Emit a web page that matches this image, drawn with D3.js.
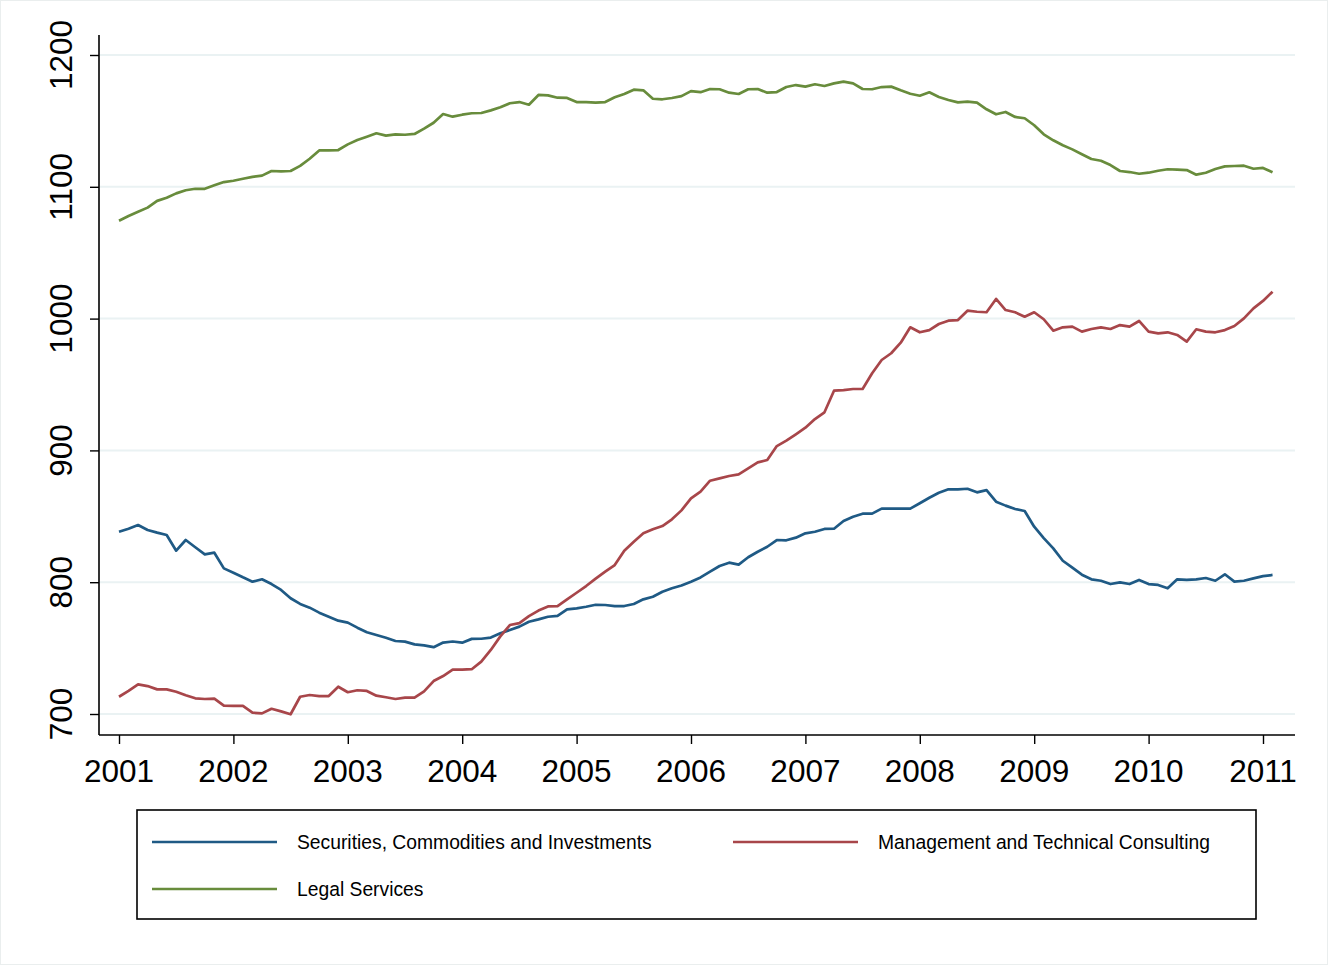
<!DOCTYPE html>
<html>
<head>
<meta charset="utf-8">
<script src="https://cdn.jsdelivr.net/npm/d3@7"></script>
<style>
  html, body { margin: 0; padding: 0; background: #ffffff; }
  svg { display: block; font-family: "Liberation Sans", Arial, Helvetica, sans-serif; }
</style>
</head>
<body>
<svg id="chart" width="1328" height="965"></svg>
<script>
// ---- Data (monthly, Jan 2001 – Feb 2011) ----
const startYear = 2001;
const nMonths = 122;

const securities = [
  838.3, 840.6, 843.4, 839.6, 837.6, 835.8, 823.9, 832.0, 826.5, 821.1, 822.4, 810.5,
  807.2, 803.7, 800.4, 802.2, 798.6, 794.1, 787.8, 783.5, 780.7, 776.9, 773.8, 770.8,
  769.3, 765.5, 762.0, 759.9, 757.9, 755.4, 754.9, 752.8, 752.1, 750.7, 754.2, 755.0,
  754.1, 757.0, 757.1, 758.0, 761.2, 763.7, 766.3, 770.0, 771.8, 773.8, 774.4, 779.4,
  780.2, 781.4, 782.9, 782.7, 781.9, 781.9, 783.5, 787.0, 789.0, 792.8, 795.4, 797.5,
  800.4, 803.6, 808.0, 812.3, 814.8, 813.3, 818.9, 823.1, 826.9, 832.0, 831.8, 833.8,
  837.1, 838.3, 840.4, 840.6, 846.4, 849.7, 852.0, 852.0, 855.8, 855.8, 855.8, 855.8,
  859.9, 864.1, 867.9, 870.5, 870.5, 870.9, 868.2, 869.9, 861.1, 858.1, 855.5, 854.0,
  842.1, 833.5, 825.7, 816.3, 811.0, 805.7, 802.2, 801.1, 798.6, 799.9, 798.6, 801.7,
  798.6, 797.9, 795.4, 802.2, 801.7, 802.2, 803.2, 801.1, 806.0, 800.4, 801.1, 802.9,
  804.6, 805.5
];

const consulting = [
  713.1, 717.6, 722.5, 721.2, 718.7, 718.7, 716.9, 714.2, 711.9, 711.4, 711.6, 706.3,
  706.1, 706.1, 701.0, 700.5, 704.0, 702.0, 699.8, 713.1, 714.4, 713.6, 713.6, 720.7,
  716.5, 718.0, 717.5, 713.9, 712.7, 711.4, 712.4, 712.4, 717.2, 725.0, 728.8, 733.6,
  733.6, 734.0, 739.7, 748.6, 758.9, 767.5, 769.0, 774.2, 778.5, 781.6, 781.9, 787.0,
  792.0, 797.1, 802.7, 808.0, 813.0, 823.9, 830.7, 837.1, 840.1, 842.6, 847.7, 854.5,
  863.6, 868.7, 877.0, 878.8, 880.6, 881.8, 886.4, 890.9, 892.7, 903.3, 907.4, 912.2,
  917.2, 923.8, 928.9, 945.3, 945.8, 946.6, 946.6, 958.5, 968.6, 973.7, 981.7, 993.4,
  989.6, 991.3, 995.9, 998.4, 998.9, 1006.0, 1005.2, 1004.8, 1014.9, 1006.5, 1004.8, 1001.4,
  1004.8, 999.5, 990.8, 993.4, 993.9, 990.1, 992.1, 993.4, 992.1, 995.1, 993.9, 998.2,
  990.1, 988.8, 989.6, 987.6, 982.5, 991.9, 990.1, 989.6, 991.3, 994.4, 1000.2, 1007.8,
  1013.4, 1020.4
];

const legal = [
  1074.2, 1077.8, 1081.0, 1084.2, 1089.3, 1091.7, 1095.0, 1097.4, 1098.5, 1098.5, 1101.1, 1103.6,
  1104.6, 1106.1, 1107.5, 1108.5, 1112.0, 1111.7, 1112.0, 1115.9, 1121.3, 1127.6, 1127.7, 1127.9,
  1132.2, 1135.5, 1138.0, 1140.6, 1138.8, 1139.8, 1139.5, 1140.1, 1144.1, 1148.6, 1155.2, 1153.2,
  1154.7, 1155.8, 1156.0, 1158.0, 1160.3, 1163.4, 1164.3, 1162.3, 1169.7, 1169.4, 1167.6, 1167.4,
  1164.3, 1164.3, 1163.8, 1164.3, 1167.9, 1170.4, 1173.7, 1173.2, 1166.8, 1166.4, 1167.4, 1168.8,
  1172.6, 1171.8, 1174.2, 1174.0, 1171.4, 1170.4, 1174.0, 1174.2, 1171.4, 1171.9, 1175.7, 1177.2,
  1176.0, 1177.8, 1176.5, 1178.5, 1179.8, 1178.5, 1174.2, 1174.0, 1175.7, 1176.0, 1173.2, 1170.6,
  1169.1, 1171.7, 1168.1, 1165.9, 1164.1, 1164.6, 1163.8, 1158.8, 1155.0, 1156.8, 1153.0, 1152.0,
  1146.7, 1139.8, 1135.3, 1131.5, 1128.4, 1124.7, 1121.1, 1119.8, 1116.5, 1112.0, 1111.2, 1109.9,
  1110.7, 1112.2, 1113.3, 1113.0, 1112.7, 1109.2, 1110.7, 1113.5, 1115.5, 1115.8, 1116.0, 1113.7,
  1114.3, 1111.0
];

const seriesNames = ["Securities, Commodities and Investments", "Management and Technical Consulting", "Legal Services"];
const seriesColors = ["#1f5a85", "#a8464a", "#688c3c"];
const xTicks = [2001, 2002, 2003, 2004, 2005, 2006, 2007, 2008, 2009, 2010, 2011];
const yTicks = [700, 800, 900, 1000, 1100, 1200];

// ---- Layout ----
const svg = d3.select("#chart");
const W = 1328, H = 965;

// time axis: decimal years (one point per month)
const months = d3.range(nMonths).map(i => startYear + i / 12);

const x = d3.scaleLinear().domain([2001, 2011]).range([119, 1263]);
const y = d3.scaleLinear().domain([700, 1200]).range([714, 55]);

const axisLeftX = 99, axisBottomY = 735, plotRight = 1295, plotTop = 35;

// faint outer frame
svg.append("rect").attr("x", 0.5).attr("y", 0.5).attr("width", W - 1).attr("height", H - 1)
  .attr("fill", "#ffffff").attr("stroke", "#eaeeee").attr("stroke-width", 1);

// gridlines
svg.append("g").selectAll("line").data(yTicks).join("line")
  .attr("x1", axisLeftX + 1).attr("x2", plotRight)
  .attr("y1", d => y(d)).attr("y2", d => y(d))
  .attr("stroke", "#eaf2f3").attr("stroke-width", 2);

// Y axis
const yAxis = d3.axisLeft(y).tickValues(yTicks).tickSize(9).tickPadding(0).tickFormat(d3.format("d"));
const gy = svg.append("g").attr("transform", `translate(${axisLeftX},0)`).call(yAxis);
gy.select(".domain").remove();
gy.selectAll(".tick line").attr("stroke", "#000").attr("stroke-width", 1.4);
gy.selectAll(".tick text").remove();
gy.append("line").attr("x1", 0).attr("x2", 0).attr("y1", plotTop).attr("y2", axisBottomY)
  .attr("stroke", "#000").attr("stroke-width", 1.6);
svg.append("g").selectAll("text").data(yTicks).join("text")
  .attr("transform", d => `translate(72,${y(d)}) rotate(-90)`)
  .attr("text-anchor", "middle")
  .attr("font-size", 31.5)
  .attr("fill", "#000")
  .text(d => d);

// X axis
const xAxis = d3.axisBottom(x).tickValues(xTicks).tickSize(9).tickFormat(d3.format("d"));
const gx = svg.append("g").attr("transform", `translate(0,${axisBottomY})`).call(xAxis);
gx.select(".domain").remove();
gx.selectAll(".tick line").attr("stroke", "#000").attr("stroke-width", 1.4);
gx.selectAll(".tick text").remove();
gx.append("line").attr("x1", axisLeftX).attr("x2", plotRight).attr("y1", 0).attr("y2", 0)
  .attr("stroke", "#000").attr("stroke-width", 1.6);
svg.append("g").selectAll("text").data(xTicks).join("text")
  .attr("x", d => x(d)).attr("y", 782)
  .attr("text-anchor", "middle")
  .attr("font-size", 31.5)
  .attr("fill", "#000")
  .text(d => d);

// Lines
const allSeries = [securities, consulting, legal];
const line = d3.line().x((d, i) => x(months[i])).y(d => y(d));
svg.append("g").selectAll("path").data(allSeries).join("path")
  .attr("d", d => line(d))
  .attr("fill", "none")
  .attr("stroke", (d, i) => seriesColors[i])
  .attr("stroke-width", 2.7)
  .attr("stroke-linejoin", "round");

// Legend
const lg = svg.append("g");
lg.append("rect").attr("x", 137).attr("y", 810).attr("width", 1119).attr("height", 109)
  .attr("fill", "#fff").attr("stroke", "#000").attr("stroke-width", 1.6);
const legendPos = [
  { lx: 152, ly: 842 },
  { lx: 733, ly: 842 },
  { lx: 152, ly: 889 }
];
seriesNames.forEach((name, i) => {
  const p = legendPos[i];
  lg.append("line").attr("x1", p.lx).attr("x2", p.lx + 125).attr("y1", p.ly).attr("y2", p.ly)
    .attr("stroke", seriesColors[i]).attr("stroke-width", 2.7);
  lg.append("text").attr("x", p.lx + 145).attr("y", p.ly + 7)
    .attr("font-size", 19.3).attr("fill", "#000").text(name);
});
</script>
</body>
</html>
